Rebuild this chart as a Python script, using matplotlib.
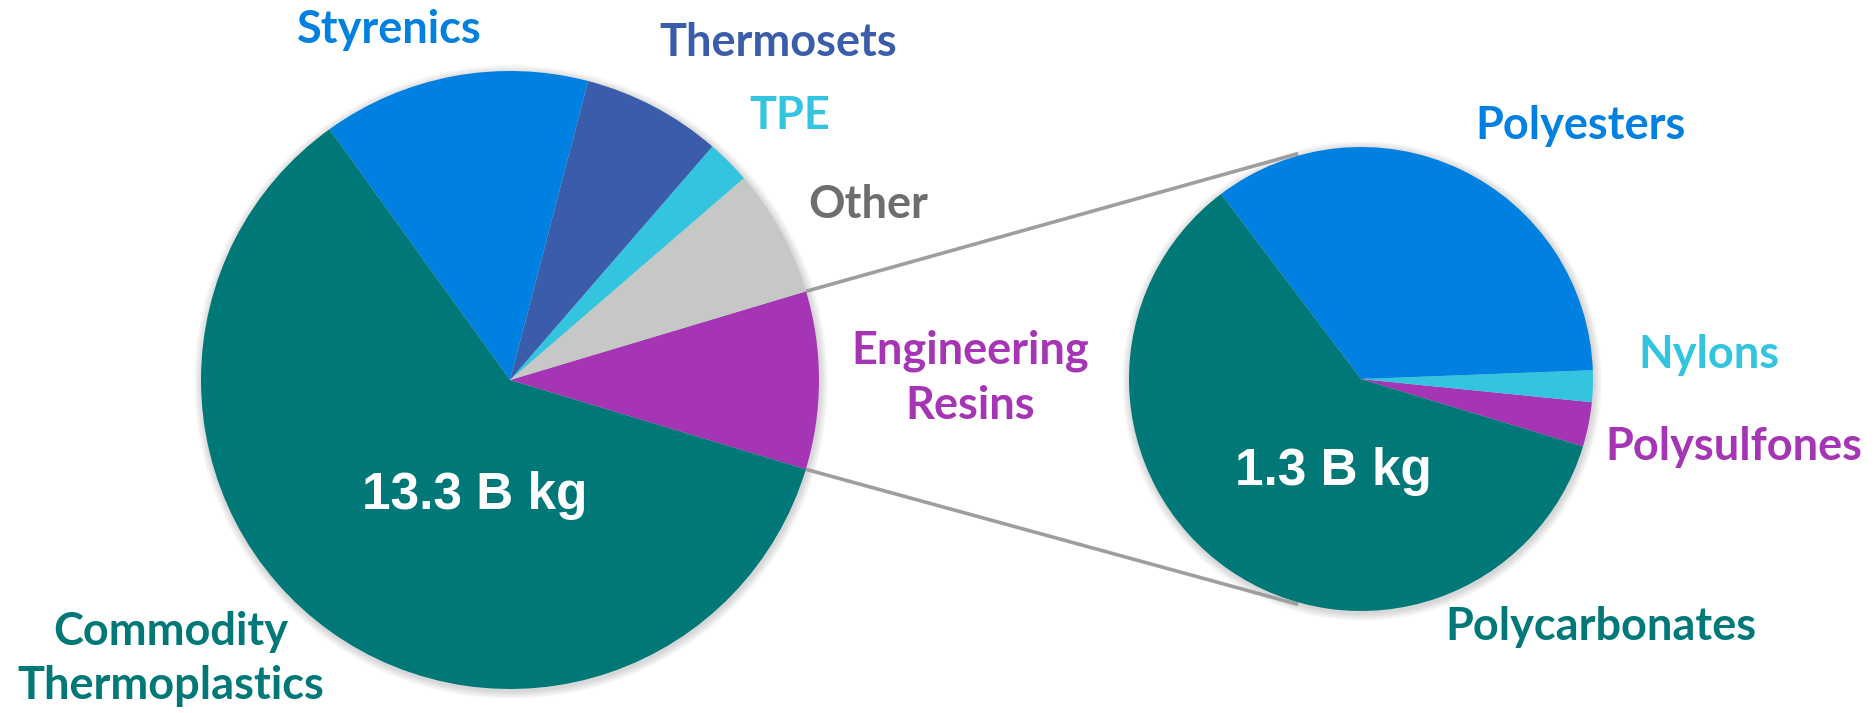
import numpy as np
import matplotlib
matplotlib.use('Agg')
import matplotlib.pyplot as plt
from matplotlib.patches import Circle

# main pie: total plastics, 13.3 B kg
main_labels = ['Engineering\nResins', 'Other', 'TPE', 'Thermosets', 'Styrenics', 'Commodity\nThermoplastics']
main_values = [9.3, 6.7, 2.3, 7.3, 14.0, 60.4]
main_colors = ['#A535B5', '#C6C8C6', '#33C5E0', '#3A5CAB', '#0080E0', '#007878']
main_text_colors = ['#A535B5', '#6E6E6E', '#33C5E0', '#3A5CAB', '#0080E0', '#007878']
main_total = '13.3 B kg'

# breakdown of engineering resins, 1.3 B kg
sub_labels = ['Polysulfones', 'Nylons', 'Polyesters', 'Polycarbonates']
sub_values = [3.1, 2.2, 34.7, 60.0]
sub_colors = ['#A535B5', '#33C5E0', '#0080E0', '#007878']
sub_total = '1.3 B kg'

W, H = 1875, 713
fig = plt.figure(figsize=(W / 100, H / 100), dpi=100)
ax = fig.add_axes([0, 0, 1, 1])

c1, r1 = (510, 333), 309
c2, r2 = (1361, 334), 232
start1 = -16.8
start2 = -16.9


def soft_shadow(center, r):
    for k in range(1, 9):
        ax.add_patch(Circle((center[0] + 1, center[1] - 2), r + k, color='black',
                            alpha=0.018, lw=0, zorder=0))


soft_shadow(c1, r1)
soft_shadow(c2, r2)

ax.pie(main_values, colors=main_colors, startangle=start1, counterclock=True,
       center=c1, radius=r1, wedgeprops=dict(linewidth=0, zorder=2))
ax.pie(sub_values, colors=sub_colors, startangle=start2, counterclock=True,
       center=c2, radius=r2, wedgeprops=dict(linewidth=0, zorder=2))

# connector lines from the engineering resins slice to the second pie
a0 = np.deg2rad(start1)
a1 = np.deg2rad(start1 + main_values[0] / sum(main_values) * 360)
b = np.deg2rad(105.6)
for a, bb in [(a1, b), (a0, -b)]:
    x0, y0 = c1[0] + r1 * np.cos(a), c1[1] + r1 * np.sin(a)
    x1, y1 = c2[0] + (r2 + 2) * np.cos(bb), c2[1] + (r2 + 2) * np.sin(bb)
    ax.plot([x0, x1], [y0, y1], color='#9E9E9E', lw=2.6, zorder=1,
            solid_capstyle='butt')

lab_font = dict(family='Lato', fontweight='bold', fontsize=32.5, ha='center', va='center')

main_pos = [(970, 335), (868, 508), (790, 597), (778, 670), (389, 683), (171, 54)]
for lab, col, (x, y) in zip(main_labels, main_text_colors, main_pos):
    ax.text(x, y, lab, color=col, linespacing=1.38, **lab_font)

sub_pos = [(1734, 266), (1709, 358), (1581, 587), (1601, 86)]
for lab, col, (x, y) in zip(sub_labels, sub_colors, sub_pos):
    ax.text(x, y, lab, color=col, **lab_font)

tot_font = dict(family='Liberation Sans', fontweight='bold', fontsize=37,
                color='white', ha='center', va='center', zorder=5)
ax.text(475, 218, main_total, **tot_font)
ax.text(1333, 241, sub_total, **tot_font)

ax.set_xlim(0, W)
ax.set_ylim(0, H)
ax.set_aspect('auto')
ax.axis('off')

fig.savefig('out.png', dpi=100, facecolor='white')
